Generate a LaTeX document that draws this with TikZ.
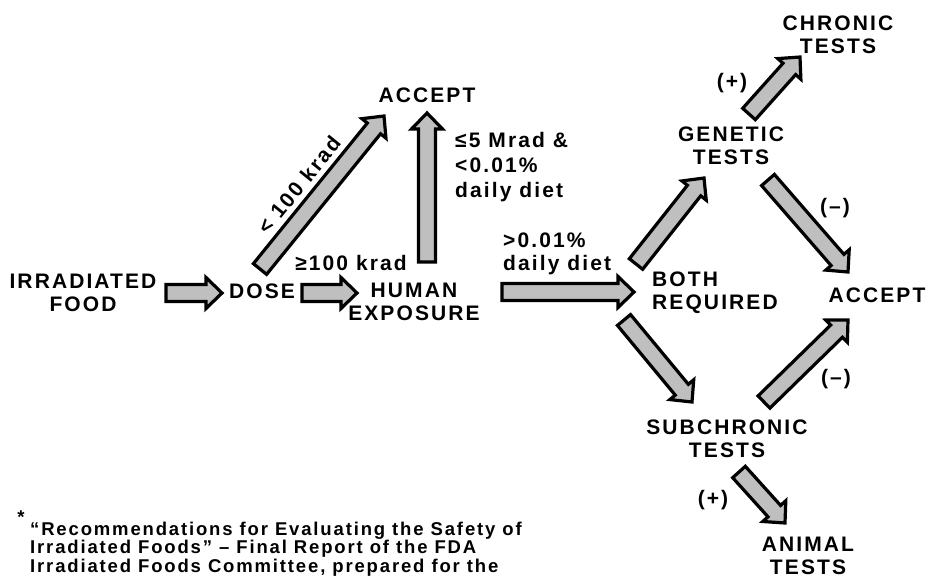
\documentclass[tikz,border=0pt]{standalone}
\usepackage{fontspec}
\setmainfont{Liberation Sans}[LetterSpace=10]
\usetikzlibrary{calc}

% fat shaded arrow between two points
\newcommand{\fatarrow}[2]{%
  \filldraw[arrowbody]
    ($(#1)!8.5pt!90:(#2)$)
    -- ($(#2)!16pt!(#1)!8.5pt!-90:(#1)$)
    -- ($(#2)!16pt!(#1)!15.5pt!-90:(#1)$)
    -- (#2)
    -- ($(#2)!16pt!(#1)!15.5pt!90:(#1)$)
    -- ($(#2)!16pt!(#1)!8.5pt!90:(#1)$)
    -- ($(#1)!8.5pt!-90:(#2)$) -- cycle;}

\tikzset{
  arrowbody/.style={fill=gray!50,draw=black,line width=3.2pt,line join=miter},
  lbl/.style={inner sep=0pt,font=\fontsize{21}{23}\selectfont\bfseries,align=center},
  foot/.style={inner sep=0pt,font=\fontsize{18.5}{18.3}\selectfont\bfseries,align=left}
}

\begin{document}
\begin{tikzpicture}[x=1pt,y=-1pt]
    \clip (0,0) rectangle (929,579);
    \useasboundingbox (0,0) rectangle (929,579);
    % boxes of text
    \node[lbl] (food) at (83,293) {IRRADIATED\\FOOD};
    \node[lbl] (dose) at (262,291) {DOSE};
    \node[lbl] (human) at (414,302) {HUMAN\\EXPOSURE};
    \node[lbl] (accepttop) at (427,95) {ACCEPT};
    \node[lbl,align=left,anchor=west] (both) at (652,293) {BOTH\\REQUIRED};
    \node[lbl] (genetic) at (731,146) {GENETIC\\TESTS};
    \node[lbl] (chronic) at (838,35) {CHRONIC\\TESTS};
    \node[lbl] (acceptright) at (877,295) {ACCEPT};
    \node[lbl] (subchronic) at (727,439) {SUBCHRONIC\\TESTS};
    \node[lbl] (animal) at (808,556) {ANIMAL\\TESTS};
    % arrow ends
    \coordinate (a1) at (166,293);  \coordinate (b1) at (222,293);
    \coordinate (a2) at (302,293);  \coordinate (b2) at (357,293);
    \coordinate (a3) at (260,269);  \coordinate (b3) at (384,116);
    \coordinate (a4) at (427,262);  \coordinate (b4) at (427,113);
    \coordinate (a5) at (502,292);  \coordinate (b5) at (634,292);
    \coordinate (a6) at (636,264);  \coordinate (b6) at (704,178);
    \coordinate (a7) at (749,114);  \coordinate (b7) at (800,57);
    \coordinate (a8) at (768,180);  \coordinate (b8) at (848,272);
    \coordinate (a9) at (624,320);  \coordinate (b9) at (692,402);
    \coordinate (a10) at (764,402); \coordinate (b10) at (848,320);
    \coordinate (a11) at (739,472); \coordinate (b11) at (785,523);
    \foreach \i in {1,...,11}{\fatarrow{a\i}{b\i}}
    % conditions
    \node[lbl] (kradge) at (351,263) {≥100 krad};
    \node[lbl,rotate=51] (kradlt) at (299,185) {< 100 krad};
    \node[lbl,align=left,anchor=north west,font=\fontsize{21}{25}\selectfont\bfseries]
      (mrad) at (455,132) {≤5 Mrad \&\\<0.01\%\\daily diet};
    \node[lbl,align=left,anchor=west] (diet) at (503,254) {>0.01\%\\daily diet};
    \node[lbl] (plusa) at (732,83) {(+)};
    \node[lbl] (minusa) at (835,208) {(--)};
    \node[lbl] (minusb) at (836,379) {(--)};
    \node[lbl] (plusb) at (713,500) {(+)};
    % footnote
    \node[foot] (star) at (21,517) {*};
    \node[foot,anchor=north west] (ref) at (30,522)
      {“Recommendations for Evaluating the Safety of\\
       Irradiated Foods” -- Final Report of the FDA\\
       Irradiated Foods Committee, prepared for the};
\end{tikzpicture}
\end{document}
